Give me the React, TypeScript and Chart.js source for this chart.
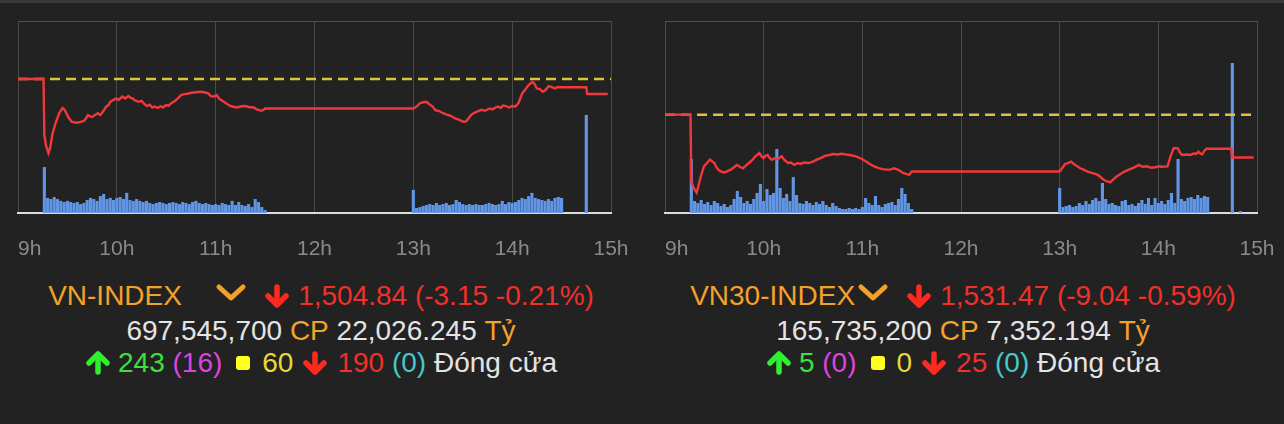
import React, { useEffect, useRef } from "react";
import { Chart, registerables } from "chart.js";

Chart.register(...registerables);

// ---------- shared axis ----------
const hourTicks = [0, 60, 120, 180, 240, 300, 360]; // minutes after 9:00
const hourLabels = ["9h", "10h", "11h", "12h", "13h", "14h", "15h"];

// ---------- VN-INDEX ----------
const vnName = "VN-INDEX";
const vnRef = 1507.99;
const vnClose = "1,504.84";
const vnChange = "-3.15";
const vnPct = "-0.21%";
const vnShares = "697,545,700";
const vnValue = "22,026.245";
const vnBreadth = { up: "243", ceil: "16", flat: "60", down: "190", floor: "0" };
const vnYMin = 1479.84;
const vnYMax = 1520.17;
const vnVolMax = 84;

const vnLineMin = [
  0, 15.5, 16, 17, 18.5, 19.5, 21, 23, 25, 27, 28, 29, 30.5, 32.5, 34, 36, 38, 40, 41, 42.5,
  44, 45, 47, 48.5, 50, 51.5, 53.5, 55, 56, 58, 59.7, 61, 63.4, 65, 67, 68.5, 69.6, 71, 73.3, 75,
  76.5, 78.3, 80, 81.5, 83, 85, 86.5, 88, 90, 91.5, 93, 95, 97, 99, 101, 103, 105.5, 108, 110.5, 113,
  115.5, 117, 119, 120.5, 122, 123, 125, 128, 130, 133, 135, 138, 140, 143, 145, 147.7, 149, 150, 240, 242,
  244, 246, 248, 250, 251.7, 253.5, 255.5, 258, 260.4, 263, 265.4, 268, 270.3, 272, 273.5, 275, 276.5, 279, 281.5, 283.5,
  286.4, 288, 290, 291.4, 293, 294.5, 296.3, 298, 300, 302, 303.8, 305, 306.2, 308, 310, 312.4, 313.5, 315, 317, 318.6,
  320, 322.3, 324, 326, 327.5, 330, 345, 345.5, 358,
];
const vnLinePrice = [
  1507.99, 1507.99, 1496.2, 1494.0, 1492.4, 1493.5, 1496.6, 1498.9, 1500.8, 1501.9, 1501.6, 1501.1, 1500.0, 1499.0, 1498.9, 1498.8, 1499.0, 1499.2, 1499.6, 1500.4,
  1500.1, 1500.0, 1500.5, 1500.8, 1500.4, 1501.1, 1502.2, 1502.5, 1503.2, 1503.6, 1503.9, 1503.6, 1504.3, 1503.9, 1504.4, 1504.0, 1503.9, 1503.5, 1503.2, 1503.4,
  1502.8, 1502.3, 1502.6, 1502.0, 1502.2, 1501.9, 1502.3, 1502.0, 1502.5, 1502.4, 1502.9, 1503.3, 1503.9, 1504.6, 1504.8, 1504.9, 1505.1, 1505.2, 1505.3, 1505.2,
  1505.0, 1504.4, 1504.3, 1504.6, 1503.9, 1503.6, 1503.2, 1502.5, 1502.2, 1502.0, 1502.2, 1502.3, 1502.1, 1502.0, 1501.6, 1501.3, 1501.5, 1501.8, 1501.8, 1502.2,
  1502.9, 1503.1, 1503.2, 1502.6, 1502.2, 1501.4, 1501.3, 1500.8, 1500.5, 1500.2, 1499.7, 1499.4, 1499.0, 1499.1, 1499.7, 1500.4, 1500.8, 1501.2, 1501.5, 1501.3,
  1501.8, 1501.6, 1502.0, 1502.2, 1501.9, 1502.4, 1502.3, 1502.0, 1502.3, 1502.2, 1502.9, 1504.0, 1505.0, 1505.8, 1506.7, 1507.4, 1507.0, 1506.0, 1505.8, 1505.3,
  1505.6, 1506.5, 1506.3, 1506.0, 1506.3, 1506.25, 1506.25, 1504.84, 1504.84,
];
// volume, million shares per 2-minute bin
const vnVolAmStart = 18;
const vnVolAm = [
  6.6, 6.1, 7.0, 6.1, 5.3, 4.8, 5.3, 4.8, 4.4, 4.8,
  3.9, 4.4, 5.7, 6.6, 6.1, 5.3, 7.4, 8.3, 6.1, 6.6,
  5.7, 6.6, 7.0, 6.1, 8.8, 5.7, 5.3, 6.1, 5.3, 4.8,
  5.3, 4.4, 3.9, 4.4, 4.8, 4.4, 3.9, 4.4, 4.8, 4.4,
  3.9, 4.8, 4.4, 3.9, 4.8, 5.3, 4.4, 3.9, 4.4, 3.9,
  3.5, 3.9, 3.5, 4.4, 3.9, 3.5, 5.3, 3.5, 4.8, 3.5,
  3.1, 3.9, 2.6, 6.1, 4.8, 2.6, 1.3,
];
const vnVolPmStart = 240;
const vnVolPm = [
  10.1, 2.2, 2.6, 3.1, 3.5, 3.9, 3.5, 4.4, 3.5, 3.9,
  4.4, 3.5, 3.9, 5.7, 4.8, 3.9, 3.5, 3.9, 3.5, 3.9,
  3.5, 3.5, 3.9, 4.4, 3.9, 3.5, 3.9, 5.3, 3.9, 4.8,
  4.4, 4.8, 5.7, 6.6, 6.1, 7.4, 8.8, 6.6, 6.1, 5.7,
  5.3, 6.1, 5.3, 6.6, 7.0, 6.6,
];
const vnAuctionMin = [16, 345];
const vnAuctionVol = [20.1, 42.9];

// ---------- VN30-INDEX ----------
const v30Name = "VN30-INDEX";
const v30Ref = 1540.51;
const v30Close = "1,531.47";
const v30Change = "-9.04";
const v30Pct = "-0.59%";
const v30Shares = "165,735,200";
const v30Value = "7,352.194";
const v30Breadth = { up: "5", ceil: "0", flat: "0", down: "25", floor: "0" };
const v30YMin = 1519.75;
const v30YMax = 1560.28;
const v30VolMax = 24;

const v30LineMin = [
  0, 15.5, 16, 17, 19.2, 20, 21.2, 22.5, 23.7, 25.5, 27.4, 28.5, 30, 31, 32.4, 34, 36.2, 38, 40, 42,
  43.7, 45.5, 47.4, 49, 51, 53, 54.9, 56, 57.4, 58.5, 59.9, 61, 62.4, 63.5, 64.9, 66.5, 68.6, 70, 71, 72.5,
  74.8, 76.5, 78.6, 80.5, 82.3, 84.5, 87.3, 90, 92.3, 95, 97.3, 100, 102.3, 105, 107.3, 110, 112.3, 115, 117.3, 120,
  122.3, 125, 127.2, 130, 132.2, 135, 137.2, 139, 141, 143, 144.7, 146.5, 148.5, 150, 240, 241.5, 243.3, 245, 247, 249,
  250.7, 252.5, 254.5, 257, 259.5, 261.5, 263.2, 265, 267, 269, 270.7, 272.5, 274.4, 277, 279.4, 282, 284.4, 286.5, 288.2, 290.5,
  293.2, 295.5, 298.2, 300, 302, 305.6, 307.4, 309.4, 311.9, 313, 314.4, 317, 319.4, 321.5, 323.1, 324.4, 325.5, 326.8, 328, 329.3,
  344.3, 344.8, 358,
];
const v30LinePrice = [
  1540.51, 1540.51, 1526.5, 1525.3, 1524.05, 1525.0, 1526.7, 1528.3, 1529.6, 1530.3, 1531.0, 1530.7, 1530.3, 1529.6, 1528.9, 1528.5, 1528.3, 1528.6, 1528.9, 1529.4,
  1529.9, 1529.5, 1529.2, 1529.7, 1530.3, 1530.9, 1531.7, 1532.0, 1532.4, 1531.8, 1531.3, 1531.8, 1532.0, 1531.4, 1531.0, 1531.3, 1531.1, 1531.5, 1531.7, 1531.0,
  1530.3, 1530.4, 1529.9, 1530.3, 1530.1, 1530.4, 1530.3, 1530.6, 1531.0, 1531.4, 1531.8, 1532.0, 1532.2, 1532.1, 1532.25, 1532.1, 1532.0, 1531.8, 1531.55, 1531.1,
  1530.6, 1530.0, 1529.6, 1529.2, 1529.0, 1528.9, 1528.9, 1529.2, 1529.0, 1528.6, 1528.2, 1528.0, 1527.8, 1528.5, 1528.5, 1529.2, 1530.1, 1530.3, 1530.6, 1530.0,
  1529.6, 1529.2, 1528.9, 1528.5, 1528.2, 1528.0, 1527.8, 1527.3, 1526.7, 1526.4, 1526.2, 1526.8, 1527.4, 1528.0, 1528.5, 1528.9, 1529.2, 1529.6, 1529.9, 1529.5,
  1529.6, 1529.3, 1529.4, 1529.6, 1529.5, 1529.6, 1531.7, 1533.45, 1533.4, 1532.6, 1532.0, 1532.1, 1532.0, 1532.3, 1532.25, 1532.7, 1532.3, 1532.2, 1532.9, 1533.3,
  1533.3, 1531.47, 1531.47,
];
const v30VolAmStart = 18;
const v30VolAm = [
  1.5, 1.25, 1.63, 1.13, 1.38, 1.0, 1.5, 1.25, 0.88, 1.13,
  0.75, 1.0, 1.75, 2.75, 2.0, 1.25, 1.5, 1.13, 1.75, 2.5,
  3.63, 1.5, 3.0, 2.25, 2.5, 8.0, 3.13, 1.88, 2.38, 1.5,
  4.5, 2.25, 1.25, 1.13, 1.5, 1.25, 1.0, 1.38, 1.13, 1.5,
  1.0, 0.75, 1.25, 0.88, 0.63, 0.5, 0.5, 0.63, 0.5, 0.63,
  0.5, 0.75, 1.88, 1.25, 1.0, 2.13, 1.0, 0.75, 1.13, 1.25,
  1.38, 1.0, 1.75, 3.13, 2.38, 1.25, 0.5,
];
const v30VolPmStart = 240;
const v30VolPm = [
  3.13, 0.75, 0.88, 1.0, 0.75, 0.88, 1.25, 1.0, 1.5, 1.13,
  1.63, 1.88, 1.5, 3.75, 1.75, 1.13, 1.25, 1.0, 0.88, 1.5,
  1.63, 1.0, 1.13, 0.88, 1.25, 1.63, 1.13, 1.88, 1.0, 1.88,
  1.25, 1.5, 1.13, 1.63, 2.5, 1.25, 6.75, 1.75, 1.5, 1.88,
  2.0, 1.75, 2.25, 1.88, 2.13, 2.0,
];
const v30AuctionMin = [16, 345, 350];
const v30AuctionVol = [6.75, 18.75, 0.25];

// ---------- colours ----------
const BG = "#222222";
const ORANGE = "#f4a12c";
const RED_TXT = "#f0302a";
const RED_ICON = "#ff2a1f";
const WHITE = "#e4e4e4";
const GREEN = "#3ee03e";
const MAGENTA = "#dd44dd";
const YELLOW_SQ = "#ffff20";
const YELLOW_TXT = "#e8d838";
const CYAN = "#45c8cc";
const FONT = '"Liberation Sans", Arial, sans-serif';

const CANVAS_W = 642;
const CANVAS_H = 265;

function buildVolume(amStart: number, am: number[], pmStart: number, pm: number[], aucMin: number[], aucVol: number[]) {
  const pts: { x: number; y: number }[] = [];
  aucMin.forEach((m, i) => pts.push({ x: m, y: aucVol[i] }));
  am.forEach((v, i) => pts.push({ x: amStart + 2 * i, y: v }));
  pm.forEach((v, i) => pts.push({ x: pmStart + 2 * i, y: v }));
  pts.sort((a, b) => a.x - b.x);
  return pts;
}

const hourLabelPlugin = {
  id: "hourLabels",
  afterDraw(chart: any) {
    const xs = chart.scales.x;
    const ctx = chart.ctx;
    ctx.save();
    ctx.font = `21px ${FONT}`;
    ctx.fillStyle = "#8a8a8a";
    ctx.textBaseline = "alphabetic";
    hourTicks.forEach((v, i) => {
      const px = xs.getPixelForValue(v);
      ctx.textAlign = i === 0 ? "left" : "center";
      ctx.fillText(hourLabels[i], px, chart.chartArea.bottom + 42);
    });
    ctx.restore();
  },
};

type PanelChartProps = {
  refPrice: number;
  lineMin: number[];
  linePrice: number[];
  volume: { x: number; y: number }[];
  yMin: number;
  yMax: number;
  volMax: number;
  padLeft: number;
  padRight: number;
};

function PanelChart(p: PanelChartProps) {
  const ref = useRef<HTMLCanvasElement | null>(null);
  useEffect(() => {
    if (!ref.current) return;
    const chart = new Chart(ref.current, {
      type: "bar",
      data: {
        datasets: [
          {
            type: "line",
            data: p.lineMin.map((m, i) => ({ x: m, y: p.linePrice[i] })),
            borderColor: "#f2383a",
            borderWidth: 2.4,
            pointRadius: 0,
            tension: 0,
            yAxisID: "y",
            order: 1,
          } as any,
          {
            type: "line",
            data: [
              { x: 0, y: p.refPrice },
              { x: 360, y: p.refPrice },
            ],
            borderColor: "#e2c23a",
            borderWidth: 2.5,
            borderDash: [10, 6],
            pointRadius: 0,
            yAxisID: "y",
            order: 2,
          } as any,
          {
            type: "bar",
            data: p.volume,
            backgroundColor: "#6196e6",
            borderWidth: 0,
            barPercentage: 1,
            categoryPercentage: 0.95,
            yAxisID: "y2",
            order: 3,
          } as any,
        ],
      },
      options: {
        responsive: false,
        animation: false,
        events: [],
        layout: { padding: { left: p.padLeft, right: p.padRight, top: 21, bottom: 52 } },
        plugins: { legend: { display: false }, tooltip: { enabled: false } },
        scales: {
          x: {
            type: "linear",
            min: 0,
            max: 360,
            offset: false,
            afterBuildTicks: (s: any) => {
              s.ticks = hourTicks.map((v) => ({ value: v }));
            },
            afterFit: (s: any) => {
              s.height = 0;
            },
            ticks: { display: false },
            grid: { color: "#4a4a4a", lineWidth: 1, drawTicks: false, offset: false },
            border: { color: "#dcdcdc", width: 2 },
          },
          y: {
            type: "linear",
            min: p.yMin,
            max: p.yMax,
            afterBuildTicks: (s: any) => {
              s.ticks = [{ value: p.yMin }, { value: p.yMax }];
            },
            afterFit: (s: any) => {
              s.width = 0;
            },
            ticks: { display: false },
            grid: {
              drawTicks: false,
              color: (c: any) => (c.tick && c.tick.value === p.yMax ? "#505050" : "rgba(0,0,0,0)"),
            },
            border: { display: false },
          },
          y2: {
            type: "linear",
            display: false,
            min: 0,
            max: p.volMax,
          },
        },
      } as any,
      plugins: [hourLabelPlugin],
    });
    return () => chart.destroy();
  }, []);
  return <canvas ref={ref} width={CANVAS_W} height={CANVAS_H} style={{ display: "block", width: CANVAS_W, height: CANVAS_H }} />;
}

function Chevron() {
  return (
    <svg width={34} height={22} viewBox="0 0 34 22" style={{ position: "relative", top: -3 }}>
      <polyline points="5,5 17,16 29,5" fill="none" stroke={ORANGE} strokeWidth={5} strokeLinecap="round" strokeLinejoin="round" />
    </svg>
  );
}

function Arrow({ up, color }: { up?: boolean; color: string }) {
  return (
    <svg width={26} height={24} viewBox="0 0 26 24" style={{ transform: up ? "rotate(180deg)" : undefined }}>
      <line x1={13} y1={3} x2={13} y2={20} stroke={color} strokeWidth={5.5} strokeLinecap="round" />
      <polyline points="4,12 13,21 22,12" fill="none" stroke={color} strokeWidth={5.5} strokeLinecap="round" strokeLinejoin="round" />
    </svg>
  );
}

const row = (top: number): React.CSSProperties => ({
  position: "absolute",
  left: 0,
  width: CANVAS_W,
  top,
  height: 34,
  display: "flex",
  justifyContent: "center",
  alignItems: "center",
  font: `28px ${FONT}`,
  lineHeight: "34px",
  whiteSpace: "pre",
});

type PanelProps = {
  left: number;
  name: string;
  close: string;
  change: string;
  pct: string;
  shares: string;
  value: string;
  breadth: { up: string; ceil: string; flat: string; down: string; floor: string };
  chart: PanelChartProps;
};

function Panel(p: PanelProps) {
  return (
    <div style={{ position: "absolute", left: p.left, top: 0, width: CANVAS_W, height: 424 }}>
      <PanelChart {...p.chart} />
      <div style={row(279)}>
        <span style={{ display: "inline-block", width: 166, color: ORANGE }}>{p.name}</span>
        <Chevron />
        <span style={{ display: "inline-block", width: 16 }} />
        <Arrow color={RED_ICON} />
        <span style={{ display: "inline-block", width: 8 }} />
        <span style={{ color: RED_TXT }}>{`${p.close} (${p.change} ${p.pct})`}</span>
      </div>
      <div style={row(314)}>
        <span style={{ color: WHITE }}>{`${p.shares} `}</span>
        <span style={{ color: ORANGE }}>CP</span>
        <span style={{ color: WHITE }}>{` ${p.value} `}</span>
        <span style={{ color: ORANGE }}>Tỷ</span>
      </div>
      <div style={row(346)}>
        <Arrow up color="#2ef02e" />
        <span style={{ display: "inline-block", width: 7 }} />
        <span style={{ color: GREEN }}>{p.breadth.up}</span>
        <span style={{ color: MAGENTA }}>{` (${p.breadth.ceil})`}</span>
        <span style={{ display: "inline-block", width: 14 }} />
        <span style={{ display: "inline-block", width: 14, height: 14, borderRadius: 3, background: YELLOW_SQ }} />
        <span style={{ display: "inline-block", width: 12 }} />
        <span style={{ color: YELLOW_TXT }}>{p.breadth.flat}</span>
        <span style={{ display: "inline-block", width: 9 }} />
        <Arrow color={RED_ICON} />
        <span style={{ display: "inline-block", width: 9 }} />
        <span style={{ color: RED_TXT }}>{p.breadth.down}</span>
        <span style={{ color: CYAN }}>{` (${p.breadth.floor})`}</span>
        <span style={{ color: WHITE }}>{" Đóng cửa"}</span>
      </div>
    </div>
  );
}

export default function App() {
  return (
    <div style={{ position: "fixed", left: 0, top: 0, width: 1284, height: 424, background: BG, overflow: "hidden" }}>
      <div style={{ position: "absolute", left: 0, top: 0, width: 1284, height: 3, background: "#3a3a3a" }} />
      <Panel
        left={0}
        name={vnName}
        close={vnClose}
        change={vnChange}
        pct={vnPct}
        shares={vnShares}
        value={vnValue}
        breadth={vnBreadth}
        chart={{
          refPrice: vnRef,
          lineMin: vnLineMin,
          linePrice: vnLinePrice,
          volume: buildVolume(vnVolAmStart, vnVolAm, vnVolPmStart, vnVolPm, vnAuctionMin, vnAuctionVol),
          yMin: vnYMin,
          yMax: vnYMax,
          volMax: vnVolMax,
          padLeft: 18,
          padRight: 31,
        }}
      />
      <Panel
        left={642}
        name={v30Name}
        close={v30Close}
        change={v30Change}
        pct={v30Pct}
        shares={v30Shares}
        value={v30Value}
        breadth={v30Breadth}
        chart={{
          refPrice: v30Ref,
          lineMin: v30LineMin,
          linePrice: v30LinePrice,
          volume: buildVolume(v30VolAmStart, v30VolAm, v30VolPmStart, v30VolPm, v30AuctionMin, v30AuctionVol),
          yMin: v30YMin,
          yMax: v30YMax,
          volMax: v30VolMax,
          padLeft: 23,
          padRight: 27,
        }}
      />
    </div>
  );
}
